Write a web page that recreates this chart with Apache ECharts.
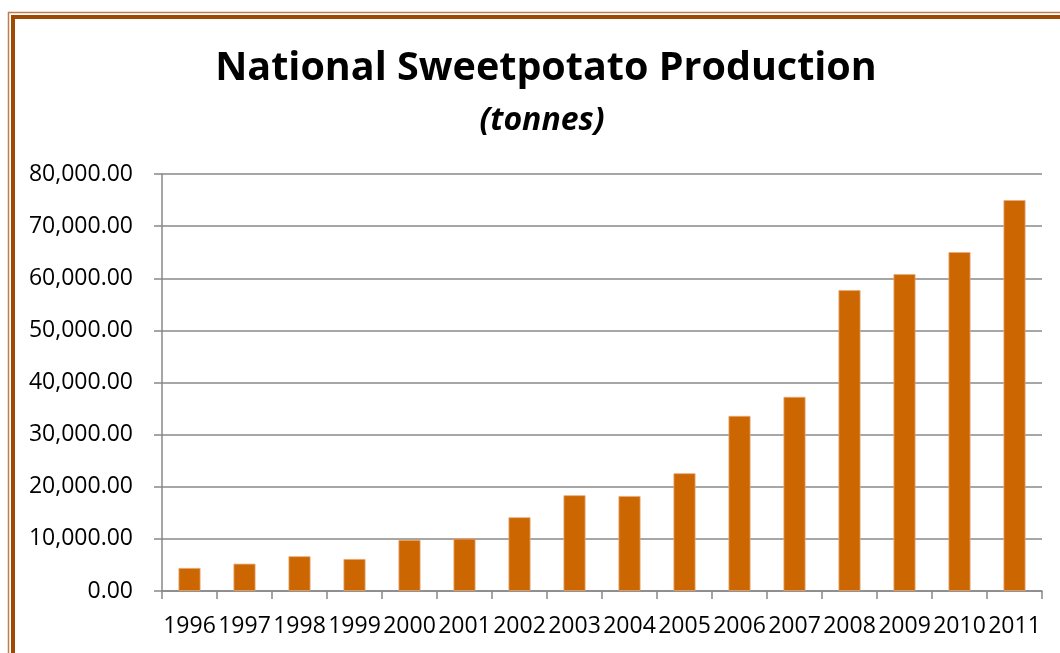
<!DOCTYPE html>
<html>
<head>
<meta charset="utf-8">
<script src="https://cdn.jsdelivr.net/npm/echarts@6/dist/echarts.min.js"></script>
<style>
html,body{margin:0;padding:0;background:#fff;}
#chart{width:1060px;height:653px;}
</style>
</head>
<body>
<div id="chart"></div>
<script>
var years = ['1996','1997','1998','1999','2000','2001','2002','2003','2004','2005','2006','2007','2008','2009','2010','2011'];
var production = [4420, 5240, 6660, 6140, 9790, 10040, 14140, 18370, 18230, 22590, 33590, 37240, 57710, 60780, 65010, 74990];
var titleText = 'National Sweetpotato Production';
var subtitleText = '(tonnes)';

function fmt(v) {
  var s = Math.round(v).toString().replace(/\B(?=(\d{3})+(?!\d))/g, ',');
  return s + '.00';
}

var chart = echarts.init(document.getElementById('chart'), null, {renderer: 'canvas'});
chart.setOption({
  animation: false,
  backgroundColor: '#ffffff',
  title: [
    {
      text: titleText,
      left: 541,
      textAlign: 'center',
      top: 44,
      textStyle: {fontFamily: 'Open Sans', fontWeight: 'bold', fontSize: 39.5, color: '#000'}
    },
    {
      text: subtitleText,
      left: 537,
      textAlign: 'center',
      top: 100,
      textStyle: {fontFamily: 'Open Sans', fontWeight: 'bold', fontStyle: 'italic', fontSize: 32, color: '#000'}
    }
  ],
  graphic: [
    {type: 'rect', shape: {x: 8.5, y: 12.5, width: 1200, height: 800}, style: {fill: 'none', stroke: '#BE7D4A', lineWidth: 1.5}, silent: true},
    {type: 'rect', shape: {x: 13, y: 17, width: 1200, height: 800}, style: {fill: 'none', stroke: '#9C4A04', lineWidth: 4}, silent: true}
  ],
  grid: {left: 162, right: 18, top: 174, bottom: 62, containLabel: false},
  xAxis: {
    type: 'category',
    data: years,
    axisLine: {lineStyle: {color: '#888', width: 1.5}},
    axisTick: {show: true, length: 8, interval: 0, lineStyle: {color: '#888', width: 1.5}},
    axisLabel: {interval: 0, margin: 24, fontFamily: 'Open Sans', fontSize: 23, color: '#000'}
  },
  yAxis: {
    type: 'value',
    min: 0,
    max: 80000,
    interval: 10000,
    axisLine: {show: true, lineStyle: {color: '#888', width: 1.5}},
    axisTick: {show: true, length: 8, lineStyle: {color: '#888', width: 1.5}},
    splitLine: {show: true, lineStyle: {color: '#888', width: 1.5}},
    axisLabel: {margin: 29, fontFamily: 'Open Sans', fontSize: 23, color: '#000', formatter: fmt}
  },
  series: [{
    type: 'bar',
    data: production,
    barWidth: 22,
    itemStyle: {color: '#CC6600', borderColor: '#E9A977', borderWidth: 0.8}
  }]
});
</script>
</body>
</html>
